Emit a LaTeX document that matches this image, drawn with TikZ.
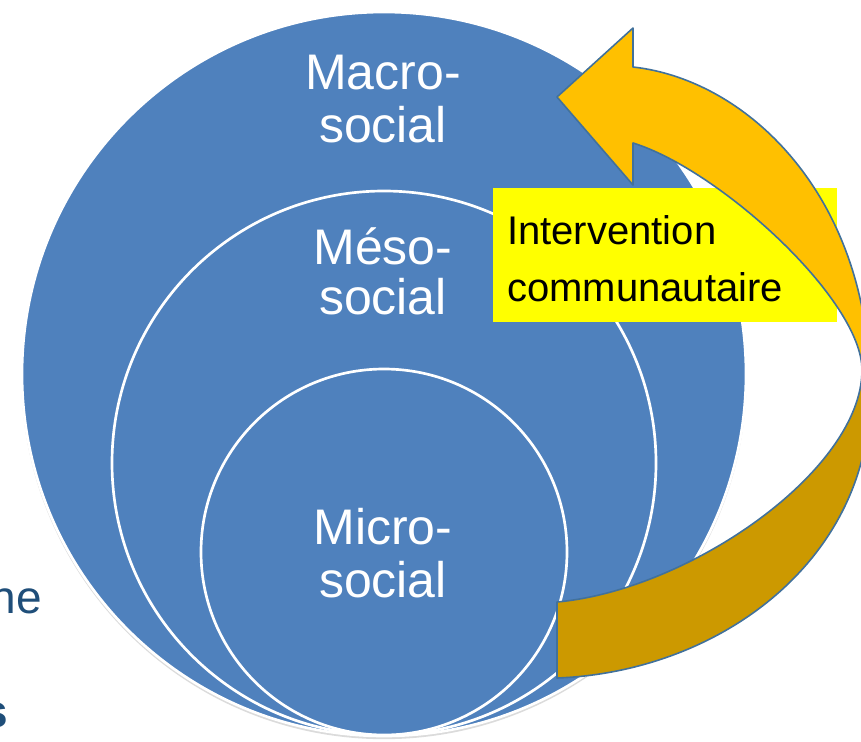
\documentclass[tikz,border=0pt]{standalone}
\usepackage{fontspec}
\setmainfont{Liberation Sans}
\definecolor{circblue}{HTML}{4F81BD}
\definecolor{arrowtop}{HTML}{FFC000}
\definecolor{arrowback}{HTML}{CC9900}
\definecolor{arrowline}{HTML}{41719C}
\definecolor{boxyellow}{HTML}{FFFF00}
\definecolor{slidetext}{HTML}{1F4E79}
\begin{document}
\begin{tikzpicture}[x=0.75pt,y=-0.75pt,
  ring/.style={circle, fill=circblue, draw=white, line width=2pt, inner sep=0pt},
  ringlabel/.style={text=white, align=center, inner sep=0pt},
  fragtext/.style={anchor=base east, text=slidetext, inner sep=0pt}]
\useasboundingbox (0,0) rectangle (861,742);
\clip (0,0) rectangle (861,742);
% shadow
\fill[black!14] (384,376.5) circle (272pt);
% circles
\node[ring, minimum size=543pt] (macro) at (384,374) {};
\node[ring, minimum size=408pt] (meso) at (384,463) {};
\node[ring, minimum size=274.5pt] (micro) at (384,552) {};
% labels
\node[ringlabel, font=\fontsize{37.5}{39.75}\selectfont] (macrotxt) at (383,99) {Macro-\\social};
\node[ringlabel, font=\fontsize{37.5}{37.5}\selectfont] (mesotxt) at (383,271) {Méso-\\social};
\node[ringlabel, font=\fontsize{37.5}{39.75}\selectfont] (microtxt) at (383,553.5) {Micro-\\social};
% yellow box
\node[fill=boxyellow, minimum width=258pt, minimum height=100.5pt, inner sep=0pt] (box) at (665,255) {};
\node[anchor=west, align=left, inner sep=0pt, font=\fontsize{30}{42.75}\selectfont] (interv) at (507,259) {Intervention\\communautaire};
% curved arrow
\begin{scope}
\clip (557,97) -- (633,28) -- (633,67)
  .. controls (750,80) and (872,200) .. (870,395)
  .. controls (870,560) and (720,672) .. (557,678)
  -- (557,602)
  .. controls (690,590) and (862,470) .. (862,370)
  .. controls (862,300) and (720,170) .. (633,143)
  -- (633,185) -- cycle;
\fill[arrowback] (500,0) rectangle (900,742);
\fill[arrowtop] (500,0) rectangle (900,368);
\end{scope}
\draw[arrowline, line width=1.2pt, line join=round]
  (557,97) -- (633,28) -- (633,67)
  .. controls (750,80) and (872,200) .. (870,395)
  .. controls (870,560) and (720,672) .. (557,678)
  -- (557,602)
  .. controls (690,590) and (862,470) .. (862,370)
  .. controls (862,300) and (720,170) .. (633,143)
  -- (633,185) -- cycle;
% fragments of slide text
\node[fragtext, font=\fontsize{34.5}{34.5}\selectfont] (frag1) at (42,613) {ne};
\node[fragtext, font=\bfseries\fontsize{34.5}{34.5}\selectfont] (frag2) at (8,727) {s};
\end{tikzpicture}
\end{document}
